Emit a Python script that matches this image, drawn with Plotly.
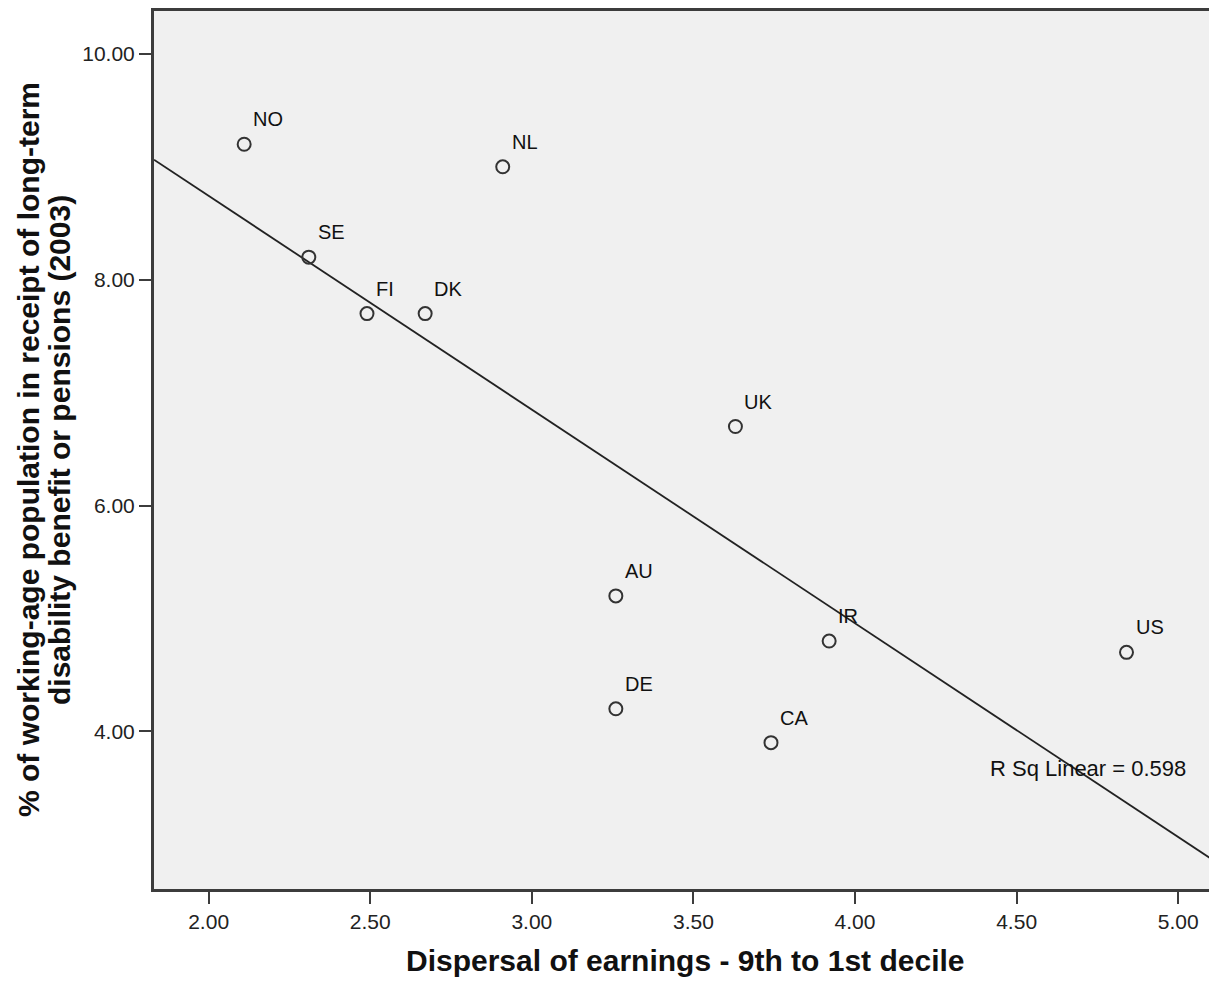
import numpy as np
import plotly.graph_objects as go

countries = ["NO", "SE", "FI", "DK", "NL", "UK", "AU", "DE", "IR", "CA", "US"]
earnings_dispersal = [2.11, 2.31, 2.49, 2.67, 2.91, 3.63, 3.26, 3.26, 3.92, 3.74, 4.84]
disability_pct = [9.2, 8.2, 7.7, 7.7, 9.0, 6.7, 5.2, 4.2, 4.8, 3.9, 4.7]
x_ticks = [2.0, 2.5, 3.0, 3.5, 4.0, 4.5, 5.0]
y_ticks = [4.0, 6.0, 8.0, 10.0]
r_sq_label = "R Sq Linear = 0.598"
x_title = "Dispersal of earnings - 9th to 1st decile"
y_title_lines = ["% of working-age population in receipt of long-term",
                 "disability benefit or pensions (2003)"]

x_range = [1.831, 5.12]
y_range = [2.604, 10.38]

slope, intercept = np.polyfit(earnings_dispersal, disability_pct, 1)
line_x = np.array(x_range)
line_y = slope * line_x + intercept

FONT = "Liberation Sans, Arial, sans-serif"
AX = "#3c3c3c"

fig = go.Figure()
fig.add_trace(go.Scatter(
    x=line_x, y=line_y, mode="lines",
    line=dict(color="#222222", width=1.8), hoverinfo="skip", showlegend=False,
))
fig.add_trace(go.Scatter(
    x=earnings_dispersal, y=disability_pct, mode="markers",
    marker=dict(symbol="circle-open", size=13, color="#333333", line=dict(width=2)),
    showlegend=False,
))

for c, xv, yv in zip(countries, earnings_dispersal, disability_pct):
    fig.add_annotation(
        x=xv, y=yv, text=c, showarrow=False, xanchor="left", yanchor="bottom",
        xshift=7, yshift=12, font=dict(family=FONT, size=20, color="#111111"),
    )

fig.add_annotation(
    x=4.72, y=3.675, text=r_sq_label, showarrow=False, xanchor="center", yanchor="middle",
    font=dict(family=FONT, size=22, color="#111111"),
)

fig.add_annotation(
    xref="paper", yref="paper", x=0.5, y=0, text=f"<b>{x_title}</b>", showarrow=False,
    xanchor="center", yanchor="middle", yshift=-71,
    font=dict(family=FONT, size=30, color="#111111"),
)
for shift, line in zip([-126, -95], y_title_lines):
    fig.add_annotation(
        xref="paper", yref="paper", x=0, y=0.5, text=f"<b>{line}</b>", showarrow=False,
        xanchor="center", yanchor="middle", xshift=shift, textangle=-90,
        font=dict(family=FONT, size=30, color="#111111"),
    )

fig.update_layout(
    width=1209, height=975,
    margin=dict(l=146, r=0, t=1, b=94),
    paper_bgcolor="white", plot_bgcolor="#F0F0F0",
    font=dict(family=FONT, color="#111111"),
    xaxis=dict(
        range=x_range, tickvals=x_ticks, ticktext=[f"{v:.2f}" for v in x_ticks],
        showgrid=False, zeroline=False, showline=True, linecolor=AX, linewidth=3,
        mirror=True, ticks="outside", ticklen=12, tickwidth=2, tickcolor=AX,
        tickfont=dict(size=21, family=FONT, color="#222222"),
    ),
    yaxis=dict(
        range=y_range, tickvals=y_ticks, ticktext=[f"{v:.2f}" for v in y_ticks],
        showgrid=False, zeroline=False, showline=True, linecolor=AX, linewidth=3,
        ticks="outside", ticklen=12, tickwidth=2, tickcolor=AX,
        tickfont=dict(size=21, family=FONT, color="#222222"),
    ),
)

fig.write_html("out.html")
